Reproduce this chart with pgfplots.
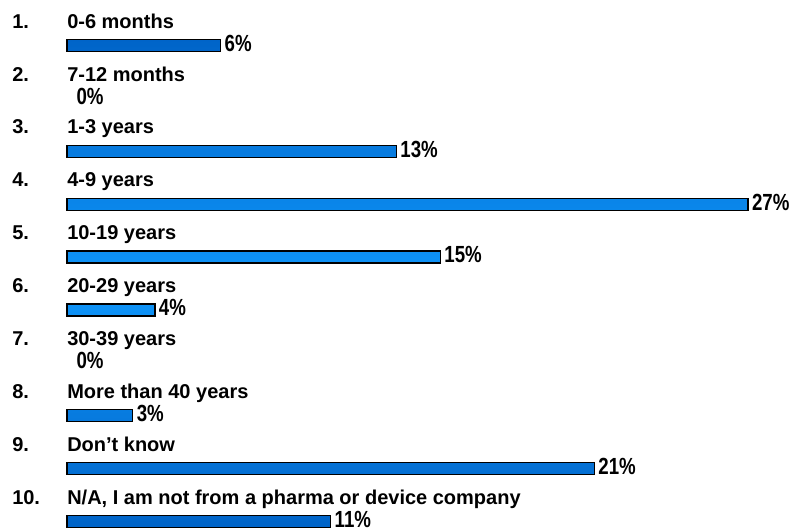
\documentclass[border=0pt]{standalone}
\usepackage{fontspec}
\setmainfont{Liberation Sans}
\newfontfamily\pctfont[FakeStretch=0.8]{Liberation Sans}
\usepackage{pgfplots}
\pgfplotsset{compat=1.18}
\pgfkeys{/pgf/number format/assume math mode=true}
\definecolor{barmid}{RGB}{15,150,250}
\definecolor{baredge}{RGB}{0,100,200}
\newcommand{\catlab}[3]{%
  \node[anchor=base west,inner sep=0pt,font=\fontsize{15}{17}\selectfont\bfseries] at (axis cs:-2.215,#1-0.327) {#2};
  \node[anchor=base west,inner sep=0pt,font=\fontsize{15}{17}\selectfont\bfseries] at (axis cs:0,#1-0.327) {#3};}
\begin{document}
\begin{tikzpicture}
\begin{axis}[
  x=18.6225pt, y=39.675pt, y dir=reverse,
  xmin=-2.698, xmax=29.36, ymin=0.14, ymax=10.178,
  hide axis, clip=false,
  point meta=x,
  nodes near coords={\pgfmathprintnumber[fixed,precision=0,assume math mode=true]{\pgfplotspointmeta}\%},
  every node near coord/.append style={anchor=west, inner sep=0pt, xshift=2.5pt, yshift=1.6pt,
     font=\pctfont\bfseries\fontsize{17.5}{18}\selectfont, black},
]
\path[draw=none] (axis cs:-2.698,0.14) rectangle (axis cs:29.36,10.178);
\addplot[xbar, bar width=9pt, bar shift=0pt, draw=black, line width=1pt,
  top color=baredge, bottom color=baredge, middle color=barmid]
  coordinates {(6.19,1) (13.27,3) (27.43,4) (15.04,5) (3.54,6) (2.65,8) (21.24,9) (10.62,10)};
\addplot[draw=none, mark=none, every node near coord/.append style={xshift=4.5pt}]
  coordinates {(0,2) (0,7)};
\catlab{1}{1.}{0-6 months}
\catlab{2}{2.}{7-12 months}
\catlab{3}{3.}{1-3 years}
\catlab{4}{4.}{4-9 years}
\catlab{5}{5.}{10-19 years}
\catlab{6}{6.}{20-29 years}
\catlab{7}{7.}{30-39 years}
\catlab{8}{8.}{More than 40 years}
\catlab{9}{9.}{Don’t know}
\catlab{10}{10.}{N/A, I am not from a pharma or device company}
\end{axis}
\end{tikzpicture}
\end{document}
